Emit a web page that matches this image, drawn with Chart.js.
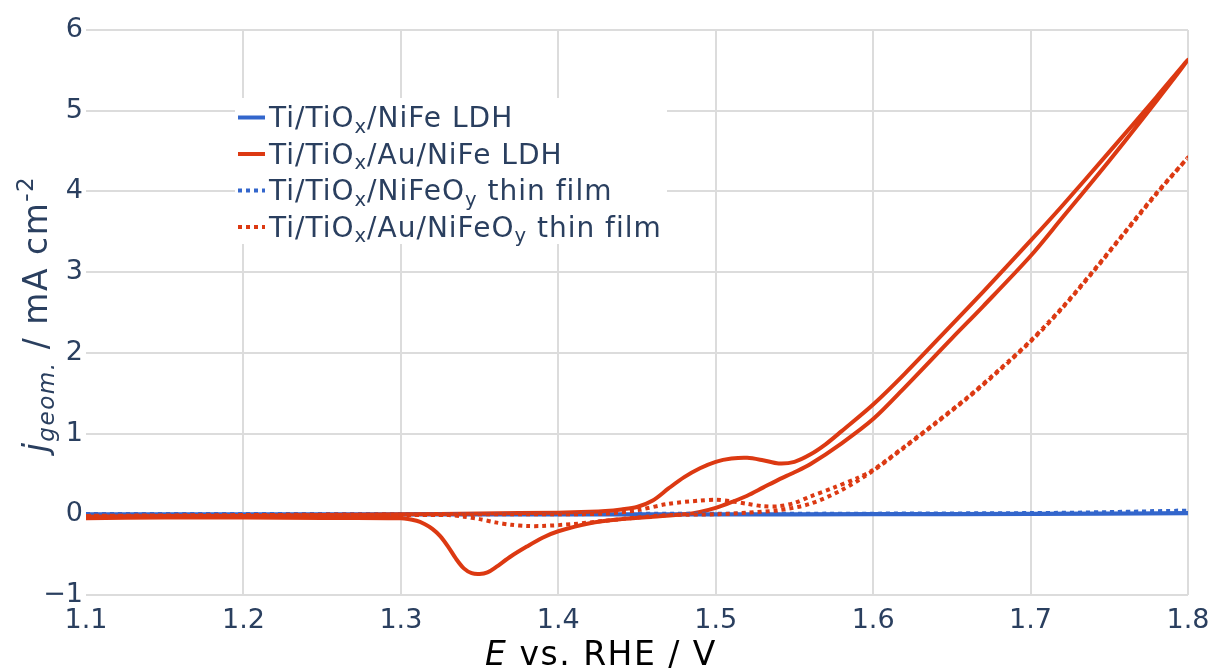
<!DOCTYPE html>
<html><head><meta charset="utf-8">
<script src="https://cdn.jsdelivr.net/npm/chart.js@4/dist/chart.umd.min.js"></script>
<style>html,body{margin:0;padding:0;background:#fff;} #wrap{width:1214px;height:671px;position:relative}</style>
</head><body><div id="wrap"><canvas id="c" width="1214" height="671"></canvas></div>
<script>
// ---- data ----
const xTicks = [1.1, 1.2, 1.3, 1.4, 1.5, 1.6, 1.7, 1.8];
const yTicks = [-1, 0, 1, 2, 3, 4, 5, 6];

// Ti/TiOx/NiFe LDH (blue solid)
const ldhX = [1.10, 1.20, 1.30, 1.40, 1.50, 1.60, 1.70, 1.80, 1.70, 1.60, 1.50, 1.40, 1.30, 1.20, 1.10];
const ldhY = [0.00, 0.00, 0.00, 0.00, 0.00, 0.003, 0.006, 0.012, 0.004, 0.0, -0.002, -0.003, -0.003, -0.003, -0.003];

// Ti/TiOx/Au/NiFe LDH (red solid)
const auLdhX = [1.10, 1.15, 1.20, 1.25, 1.30, 1.35, 1.40, 1.42, 1.43, 1.44, 1.45, 1.46, 1.47, 1.48, 1.49, 1.50, 1.51, 1.52, 1.53, 1.54, 1.55, 1.56, 1.57, 1.58, 1.60, 1.62, 1.65, 1.67, 1.70, 1.72, 1.75, 1.78, 1.80,
                1.78, 1.75, 1.72, 1.70, 1.67, 1.65, 1.62, 1.60, 1.58, 1.56, 1.55, 1.54, 1.53, 1.52, 1.51, 1.50, 1.49, 1.48, 1.46, 1.44, 1.42, 1.40, 1.39, 1.38, 1.37, 1.36, 1.355, 1.35, 1.345, 1.34, 1.335, 1.33, 1.325, 1.32, 1.315, 1.31, 1.30, 1.25, 1.20, 1.15, 1.10];
const auLdhY = [-0.03, -0.02, -0.02, -0.01, 0.00, 0.01, 0.02, 0.03, 0.04, 0.06, 0.09, 0.17, 0.32, 0.46, 0.57, 0.65, 0.69, 0.70, 0.67, 0.63, 0.65, 0.74, 0.87, 1.03, 1.36, 1.74, 2.35, 2.76, 3.39, 3.82, 4.49, 5.17, 5.63,
                5.12, 4.38, 3.67, 3.20, 2.58, 2.18, 1.57, 1.18, 0.88, 0.62, 0.52, 0.43, 0.33, 0.23, 0.15, 0.08, 0.03, 0.00, -0.03, -0.06, -0.11, -0.21, -0.29, -0.40, -0.52, -0.66, -0.72, -0.74, -0.73, -0.67, -0.55, -0.40, -0.27, -0.18, -0.12, -0.08, -0.05, -0.045, -0.04, -0.04, -0.05];

// Ti/TiOx/NiFeOy thin film (blue dotted)
const filmX = [1.10, 1.20, 1.30, 1.40, 1.50, 1.60, 1.70, 1.75, 1.80, 1.70, 1.60, 1.50, 1.40, 1.30, 1.20, 1.10];
const filmY = [0.005, 0.005, 0.005, 0.005, 0.006, 0.008, 0.015, 0.025, 0.045, 0.012, 0.006, 0.004, 0.003, 0.003, 0.004, 0.005];

// Ti/TiOx/Au/NiFeOy thin film (red dotted)
const auFilmX = [1.10, 1.20, 1.30, 1.40, 1.43, 1.45, 1.47, 1.49, 1.50, 1.51, 1.52, 1.53, 1.54, 1.55, 1.56, 1.575, 1.59, 1.60, 1.62, 1.64, 1.66, 1.68, 1.70, 1.72, 1.74, 1.76, 1.78, 1.80,
                 1.78, 1.76, 1.74, 1.72, 1.70, 1.68, 1.66, 1.64, 1.62, 1.60, 1.58, 1.56, 1.54, 1.52, 1.50, 1.47, 1.45, 1.43, 1.41, 1.39, 1.38, 1.37, 1.36, 1.35, 1.34, 1.33, 1.30, 1.20, 1.10];
const auFilmY = [-0.02, -0.01, 0.00, 0.00, 0.01, 0.05, 0.13, 0.17, 0.18, 0.16, 0.13, 0.10, 0.10, 0.14, 0.22, 0.33, 0.45, 0.55, 0.84, 1.14, 1.45, 1.79, 2.15, 2.56, 3.02, 3.50, 3.98, 4.42,
                 3.97, 3.49, 3.01, 2.55, 2.14, 1.78, 1.44, 1.13, 0.83, 0.54, 0.30, 0.13, 0.05, 0.02, 0.00, -0.01, -0.04, -0.08, -0.12, -0.145, -0.145, -0.13, -0.10, -0.06, -0.03, -0.01, -0.01, -0.01, -0.02];

const seriesNames = ['Ti/TiOx/NiFe LDH', 'Ti/TiOx/Au/NiFe LDH', 'Ti/TiOx/NiFeOy thin film', 'Ti/TiOx/Au/NiFeOy thin film'];

// ---- styling ----
const BLUE = '#3366CC', RED = '#DC3912', INK = '#2a3f5f', GRID = '#dcdcdc';
const FONT = '"DejaVu Sans", Verdana, sans-serif';
const LW = 4, DOT = [4, 4];
const pts = (xs, ys) => xs.map((x, i) => ({x: x, y: ys[i]}));

function drawRich(ctx, segs, x, y, align, base, color, spacing) {
  ctx.letterSpacing = (spacing || 0) + 'px';
  const parts = segs.map(s => {
    const size = (s.sub || s.sup) ? base * 0.7 : base;
    const font = (s.it ? 'italic ' : '') + size + 'px ' + FONT;
    ctx.font = font;
    const w = ctx.measureText(s.t).width;
    const dy = s.sub ? base * 0.21 : (s.sup ? -base * 0.42 : 0);
    return {t: s.t, font, w, dy};
  });
  const total = parts.reduce((a, p) => a + p.w, 0);
  let cx = align === 'center' ? x - total / 2 : x;
  ctx.fillStyle = color;
  ctx.textAlign = 'left';
  ctx.textBaseline = 'alphabetic';
  parts.forEach(p => { ctx.font = p.font; ctx.fillText(p.t, cx, y + p.dy); cx += p.w; });
  ctx.letterSpacing = '0px';
}

const legendItems = [
  {color: BLUE, dash: [], segs: [{t: 'Ti/TiO'}, {t: 'x', sub: 1}, {t: '/NiFe LDH'}]},
  {color: RED, dash: [], segs: [{t: 'Ti/TiO'}, {t: 'x', sub: 1}, {t: '/Au/NiFe LDH'}]},
  {color: BLUE, dash: DOT, segs: [{t: 'Ti/TiO'}, {t: 'x', sub: 1}, {t: '/NiFeO'}, {t: 'y', sub: 1}, {t: ' thin film'}]},
  {color: RED, dash: DOT, segs: [{t: 'Ti/TiO'}, {t: 'x', sub: 1}, {t: '/Au/NiFeO'}, {t: 'y', sub: 1}, {t: ' thin film'}]}
];

const decor = {
  id: 'decor',
  afterDatasetsDraw(chart) {
    const ctx = chart.ctx;
    ctx.save();
    // legend
    ctx.fillStyle = '#fff';
    ctx.fillRect(235, 98, 432, 146);
    legendItems.forEach((it, i) => {
      const cy = 117.5 + i * 36.5;
      ctx.strokeStyle = it.color; ctx.lineWidth = LW; ctx.setLineDash(it.dash);
      ctx.beginPath(); ctx.moveTo(238, cy); ctx.lineTo(265, cy); ctx.stroke();
      ctx.setLineDash([]);
      drawRich(ctx, it.segs, 269, cy + 9.5, 'left', 28, INK, 1);
    });
    // x title
    drawRich(ctx, [{t: 'E', it: 1}, {t: ' vs. RHE / V'}], 601, 665, 'center', 33, '#000', 1.5);
    // y title
    ctx.translate(47, 314);
    ctx.rotate(-Math.PI / 2);
    drawRich(ctx, [{t: 'j', it: 1}, {t: 'geom.', it: 1, sub: 1}, {t: ' / mA cm'}, {t: '-2', sup: 1}], 0, 0, 'center', 33, INK, 1.5);
    ctx.restore();
  }
};

const mk = (label, xs, ys, color, dash, order) => ({
  label, data: pts(xs, ys), borderColor: color, backgroundColor: color, borderWidth: LW,
  borderDash: dash, pointRadius: 0, showLine: true, tension: 0.3, fill: false, order
});

new Chart(document.getElementById('c'), {
  type: 'scatter',
  data: {
    datasets: [
      mk(seriesNames[0], ldhX, ldhY, BLUE, [], 4),
      mk(seriesNames[1], auLdhX, auLdhY, RED, [], 3),
      mk(seriesNames[2], filmX, filmY, BLUE, DOT, 2),
      mk(seriesNames[3], auFilmX, auFilmY, RED, DOT, 1)
    ]
  },
  options: {
    responsive: false, animation: false, devicePixelRatio: 1,
    layout: {padding: {top: 30, right: 26, left: 0, bottom: 0}},
    plugins: {legend: {display: false}, tooltip: {enabled: false}},
    scales: {
      x: {
        type: 'linear', min: 1.1, max: 1.8,
        afterBuildTicks: s => { s.ticks = xTicks.map(v => ({value: v})); },
        afterFit: s => { s.height = 76; s.paddingLeft = 0; s.paddingRight = 0; },
        border: {display: false},
        grid: {color: c => (c.tick && Math.abs(c.tick.value - 1.1) < 1e-6) ? 'rgba(0,0,0,0)' : GRID, lineWidth: 2, drawTicks: false},
        ticks: {padding: 10, color: INK, font: {family: FONT, size: 27}, maxRotation: 0, autoSkip: false,
                callback: v => Number(v).toFixed(1)}
      },
      y: {
        type: 'linear', min: -1, max: 6,
        afterBuildTicks: s => { s.ticks = yTicks.map(v => ({value: v})); },
        afterFit: s => { s.width = 86; s.paddingTop = 0; s.paddingBottom = 0; },
        border: {display: false},
        grid: {color: GRID, lineWidth: 2, drawTicks: false},
        ticks: {padding: 3, color: INK, font: {family: FONT, size: 27}, autoSkip: false,
                callback: v => v < 0 ? '\u2212' + Math.abs(v) : String(v)}
      }
    }
  },
  plugins: [decor]
});
</script></body></html>
